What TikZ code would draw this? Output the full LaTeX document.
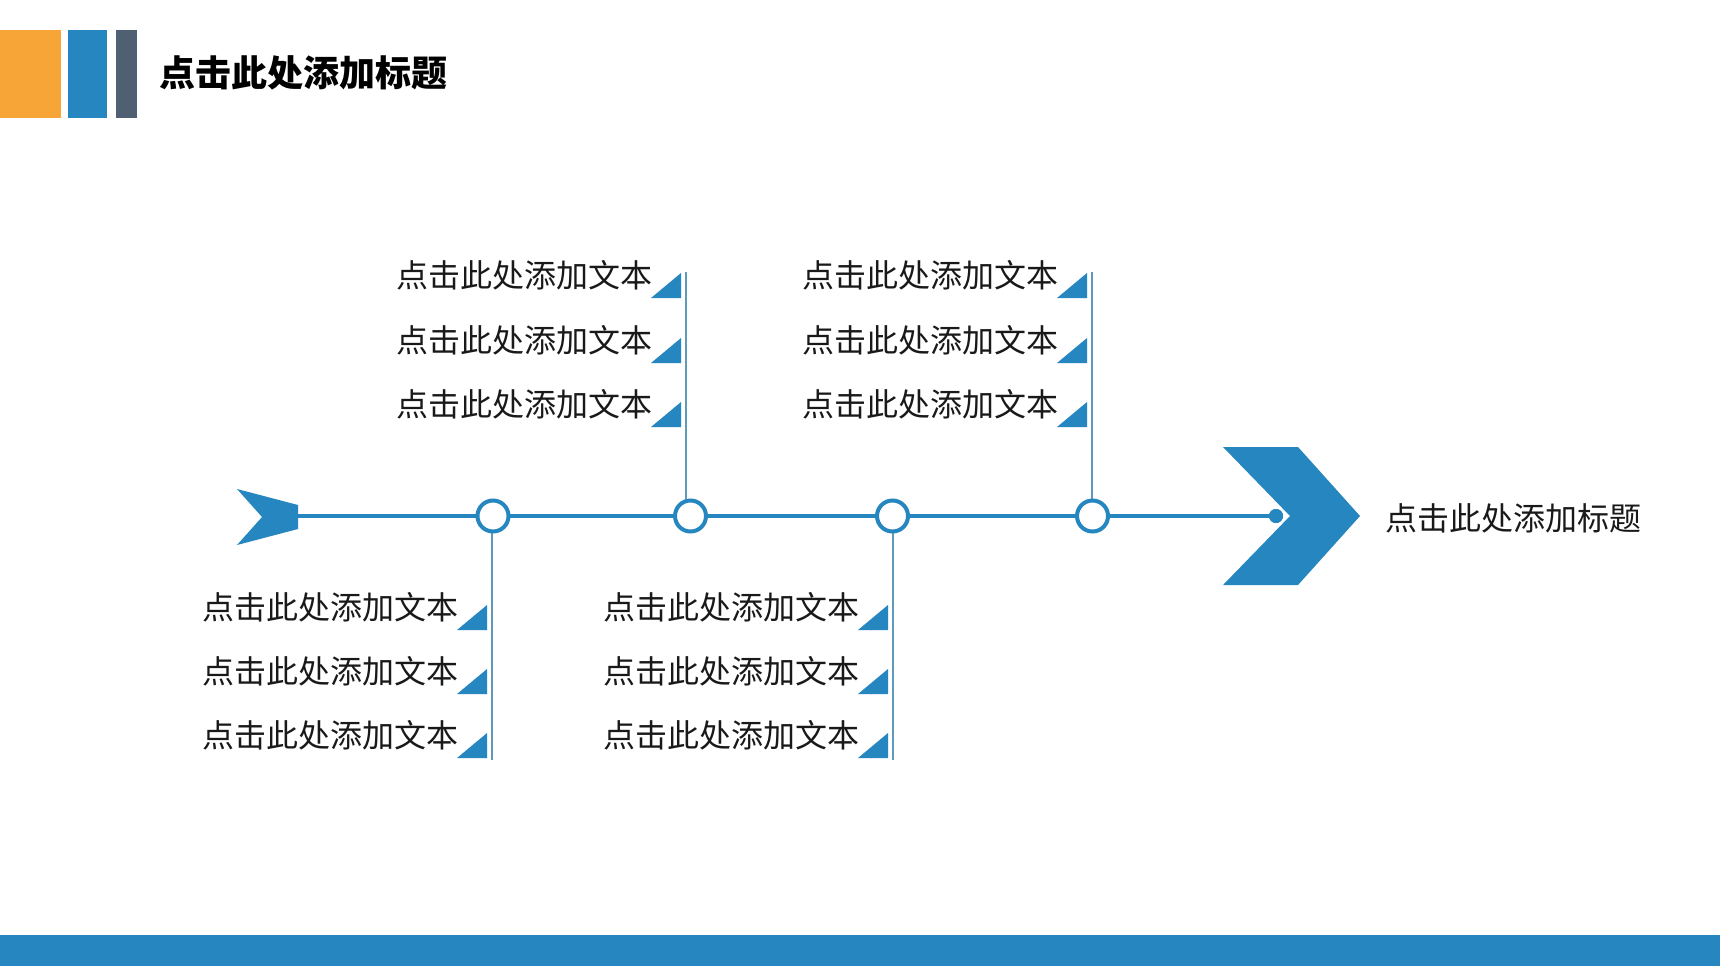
\documentclass[tikz,border=0pt]{standalone}
\usepackage{fontspec}
\newfontfamily\cjk{Noto Sans CJK SC}
\definecolor{mainblue}{RGB}{38,134,192}
\definecolor{orangeb}{RGB}{248,165,55}
\definecolor{slateb}{RGB}{80,96,115}
\definecolor{vlinec}{RGB}{95,155,185}
\tikzset{
  txt/.style={anchor=east, inner sep=0pt, font=\cjk\fontsize{32}{34}\selectfont, text=black!90},
  ring/.style={circle, draw=mainblue, line width=4pt, fill=white, minimum size=31pt, inner sep=0pt},
  dotn/.style={circle, fill=mainblue, minimum size=14pt, inner sep=0pt},
  mainline/.style={draw=mainblue, line width=4pt},
  vline/.style={draw=vlinec, line width=1.8pt},
  flag/.pic={\fill[mainblue] (0,0) -- (-30,0) -- (0,-25) -- cycle;}
}
\newcommand\fgroup[5]{%
  \foreach \y [count=\i] in {#3,#4,#5} {
    \node[txt] (#1\i) at (#2-33,\y) {点击此处添加文本};
    \pic at (#2-5,\y+23) {flag};
  }}
\begin{document}
\begin{tikzpicture}[x=1pt,y=-1pt]
\useasboundingbox (0,0) rectangle (1720,966);
\fill[white] (0,0) rectangle (1720,966);
% header
\fill[orangeb] (0,30) rectangle (61,118);
\fill[mainblue] (68,30) rectangle (107,118);
\fill[slateb] (116,30) rectangle (137,118);
\node[anchor=west, inner sep=0pt, font=\cjk\bfseries\fontsize{36}{38}\selectfont] (title) at (159,73) {点击此处添加标题};
% bottom bar
\fill[mainblue] (0,935) rectangle (1720,966);
% coordinates
\coordinate (e1) at (492,760);
\coordinate (e2) at (686,272);
\coordinate (e3) at (893,760);
\coordinate (e4) at (1092,272);
\coordinate (tailpt) at (285,516);
% vertical lines
\draw[vline] (e1) -- (e1 |- tailpt);
\draw[vline] (e2) -- (e2 |- tailpt);
\draw[vline] (e3) -- (e3 |- tailpt);
\draw[vline] (e4) -- (e4 |- tailpt);
% dot and main line
\node[dotn] (dot) at (1276,516) {};
\draw[mainline] (tailpt) -- (dot.center);
% tail
\fill[mainblue] (237,489) -- (298,505) -- (298,529) -- (237,545) -- (262,517) -- cycle;
% circles
\node[ring] (c1) at (493,516) {};
\node[ring] (c2) at (690.5,516) {};
\node[ring] (c3) at (892.5,516) {};
\node[ring] (c4) at (1092.5,516) {};
% chevron
\fill[mainblue] (1223,447) -- (1298,447) -- (1360,516) -- (1298,585) -- (1223,585) -- (1290,516) -- cycle;
\node[dotn] at (dot) {};
% right title
\node[anchor=west, inner sep=0pt, font=\cjk\fontsize{32}{34}\selectfont, text=black!90] (rtitle) at (1385,518) {点击此处添加标题};
% text groups
\fgroup{ta}{686}{275}{340}{404}
\fgroup{tb}{1092}{275}{340}{404}
\fgroup{ba}{492}{607}{671}{735}
\fgroup{bb}{893}{607}{671}{735}
\end{tikzpicture}
\end{document}
